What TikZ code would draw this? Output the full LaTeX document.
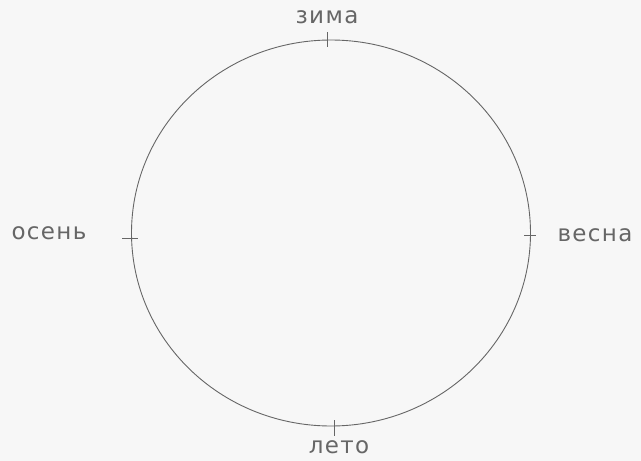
\documentclass[tikz,border=0pt]{standalone}
\usepackage{fontspec}
\setmainfont{DejaVu Sans}[LetterSpace=6]
\begin{document}
\begin{tikzpicture}[x=1pt,y=-1pt,
  lbl/.style={text=black!60, font=\fontsize{23}{23}\selectfont, inner sep=0pt},
  ring/.style={draw=black!60, line width=0.9pt},
  tick/.style={draw=black!60, line width=0.9pt}]
\fill[black!3] (0,0) rectangle (641,461);
\useasboundingbox (0,0) rectangle (641,461);
\draw[ring] (331,233) ellipse [x radius=199.5, y radius=193];
\coordinate (t1) at (327,32); \coordinate (t2) at (327,47);
\coordinate (b1) at (334,420); \coordinate (b2) at (334,436);
\coordinate (l1) at (122,238); \coordinate (l2) at (138,238);
\coordinate (r1) at (524,235); \coordinate (r2) at (536,235);
\draw[tick] (t1) -- (t2);
\draw[tick] (b1) -- (b2);
\draw[tick] (l1) -- (l2);
\draw[tick] (r1) -- (r2);
\node[lbl] (zima) at (327,17) {зима};
\node[lbl] (leto) at (339,447) {лето};
\node[lbl] (osen) at (49,233) {осень};
\node[lbl] (vesna) at (595,235) {весна};
\end{tikzpicture}
\end{document}
